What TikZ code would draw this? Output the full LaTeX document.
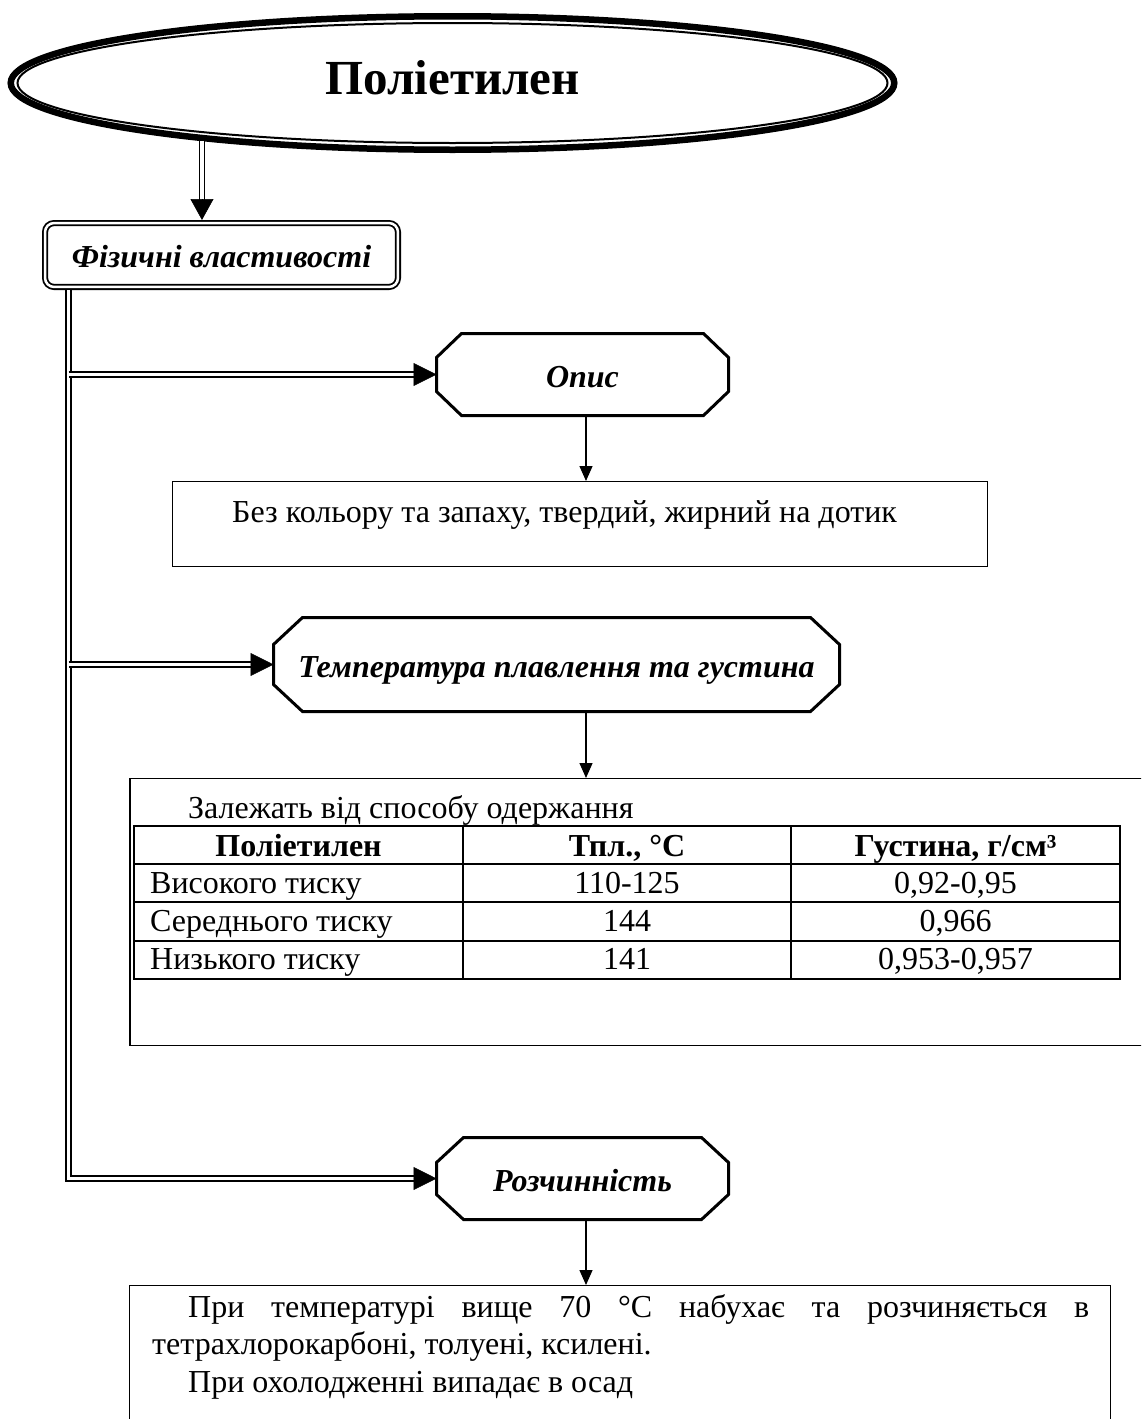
\documentclass[tikz,border=0pt]{standalone}
\usepackage{fontspec}
\setmainfont{Liberation Serif}
\usetikzlibrary{shapes.geometric,arrows.meta,calc}

% octagonal frame around a (borderless) rectangular node: #1 name, #2 chamfer x, #3 chamfer y
\newcommand\octoframe[3]{%
  \draw[octoline]
    ($(#1.north west)+(#2,0)$) -- ($(#1.north east)+(-#2,0)$) --
    ($(#1.north east)+(0,#3)$) -- ($(#1.south east)+(0,-#3)$) --
    ($(#1.south east)+(-#2,0)$) -- ($(#1.south west)+(#2,0)$) --
    ($(#1.south west)+(0,-#3)$) -- ($(#1.north west)+(0,#3)$) -- cycle;}

\begin{document}
\begin{tikzpicture}[x=1pt,y=-1pt,
  body/.style={font=\fontsize{32}{37.5}\selectfont, inner sep=0pt},
  head/.style={font=\fontsize{32}{37.5}\selectfont\bfseries, inner sep=0pt},
  labelfont/.style={font=\fontsize{32}{38}\selectfont\bfseries\itshape},
  titlenode/.style={ellipse, draw, line width=6.5pt, inner sep=0pt,
    minimum width=883.5pt, minimum height=133.5pt,
    font=\fontsize{49}{55}\selectfont\bfseries, text height=22pt, text depth=0pt},
  physbox/.style={rectangle, rounded corners=9pt, draw, line width=1.8pt,
    double=white, double distance=2.5pt, outer sep=3.05pt, inner sep=0pt,
    minimum width=352.9pt, minimum height=63.9pt, labelfont,
    text height=24pt, text depth=0pt},
  octonode/.style={rectangle, inner sep=0pt, outer sep=0pt, labelfont,
    text height=26pt, text depth=0pt},
  octoline/.style={line width=3pt, line join=miter},
  plainbox/.style={rectangle, draw, line width=1.3pt, inner sep=0pt},
  tabline/.style={line width=1.8pt},
  dbl/.style={draw, line width=1.6pt, double=white, double distance=3.4pt},
  bigtip/.style={-{Triangle[length=23pt,width=23pt]}, line width=0.6pt},
  smalltip/.style={-{Triangle[length=15pt,width=13pt]}, line width=1.3pt}
]
\useasboundingbox (0,0) rectangle (1141,1419);
\clip (0,0) rectangle (1141,1419);

% heading ellipse (thick outer line, thin inner line)
\node[titlenode] (title) at (452.5,83) {Поліетилен};
\draw[line width=2pt] (title.center) ellipse [x radius=435, y radius=60];

% physical properties box
\node[physbox] (phys) at (221.5,255) {Фізичні властивості};

% octagonal section headers
\node[octonode, minimum width=292pt, minimum height=82pt] (opis) at (582.5,374.5) {Опис};
\octoframe{opis}{25}{24}
\node[octonode, minimum width=566pt, minimum height=94pt] (temp) at (556.5,664.5) {Температура плавлення та густина};
\octoframe{temp}{29}{27}
\node[octonode, minimum width=292pt, minimum height=82pt] (rozch) at (582.5,1178.5) {Розчинність};
\octoframe{rozch}{27}{25}

% content boxes
\node[plainbox, minimum width=814.7pt, minimum height=84.7pt] (d1) at (580,524) {};
\node[plainbox, minimum width=1030pt, minimum height=266.7pt] (d2) at (645,912) {};
\node[plainbox, minimum width=980.7pt, minimum height=180pt] (d3) at (620,1375.65) {};

% text of the first box
\node[body, anchor=base west] (t1) at (232,522) {Без кольору та запаху, твердий, жирний на дотик};

% text and table of the second box
\node[body, anchor=base west] (t2) at (188,818) {Залежать від способу одержання};
\draw[tabline] (134,826) rectangle (1120,979);
\foreach \y in {864,902,941} \draw[tabline] (134,\y) -- (1120,\y);
\foreach \x in {463,791} \draw[tabline] (\x,826) -- (\x,979);
\node[head, anchor=base] (h1) at (298.5,856) {Поліетилен};
\node[head, anchor=base] (h2) at (627,856) {Тпл., °C};
\node[head, anchor=base] (h3) at (955.5,856) {Густина, г/см³};
\node[body, anchor=base west] (r1a) at (150,893) {Високого тиску};
\node[body, anchor=base] (r1b) at (627,893) {110-125};
\node[body, anchor=base] (r1c) at (955.5,893) {0,92-0,95};
\node[body, anchor=base west] (r2a) at (150,931) {Середнього тиску};
\node[body, anchor=base] (r2b) at (627,931) {144};
\node[body, anchor=base] (r2c) at (955.5,931) {0,966};
\node[body, anchor=base west] (r3a) at (150,969) {Низького тиску};
\node[body, anchor=base] (r3b) at (627,969) {141};
\node[body, anchor=base] (r3c) at (955.5,969) {0,953-0,957};

% text of the third box
\node[body, text width=937pt, align=justify, anchor=base west] (t3) at (152,1317)
  {\hspace*{36pt}При температурі вище 70 °C набухає та розчиняється в\linebreak
   тетрахлорокарбоні, толуені, ксилені.\\\hspace*{36pt}При охолодженні випадає в осад};

% double arrow from the heading
\draw[dbl, shorten >=20pt] (title.193.6) -- (title.193.6 |- phys.north);
\draw[-{Triangle[length=21pt,width=23pt]}, line width=0.6pt]
  ($(title.193.6 |- phys.north)+(0,-21)$) -- (title.193.6 |- phys.north);

% trunk with branches
\coordinate (trunk) at ($(phys.south west)+(26.5,0)$);
\draw[dbl, shorten >=22pt] (trunk) |- (rozch.west);
\draw[bigtip] ($(rozch.west)+(-23,0)$) -- (rozch.west);
\draw[dbl, shorten >=22pt] (trunk |- opis.west) -- (opis.west);
\draw[bigtip] ($(opis.west)+(-23,0)$) -- (opis.west);
\draw[dbl, shorten >=22pt] (trunk |- temp.west) -- (temp.west);
\draw[bigtip] ($(temp.west)+(-23,0)$) -- (temp.west);

% thin arrows to the content boxes
\coordinate (ax) at (586,0);
\draw[smalltip] (ax |- opis.south) -- (ax |- d1.north);
\draw[smalltip] (ax |- temp.south) -- (ax |- d2.north);
\draw[smalltip] (ax |- rozch.south) -- (ax |- d3.north);
\end{tikzpicture}
\end{document}
